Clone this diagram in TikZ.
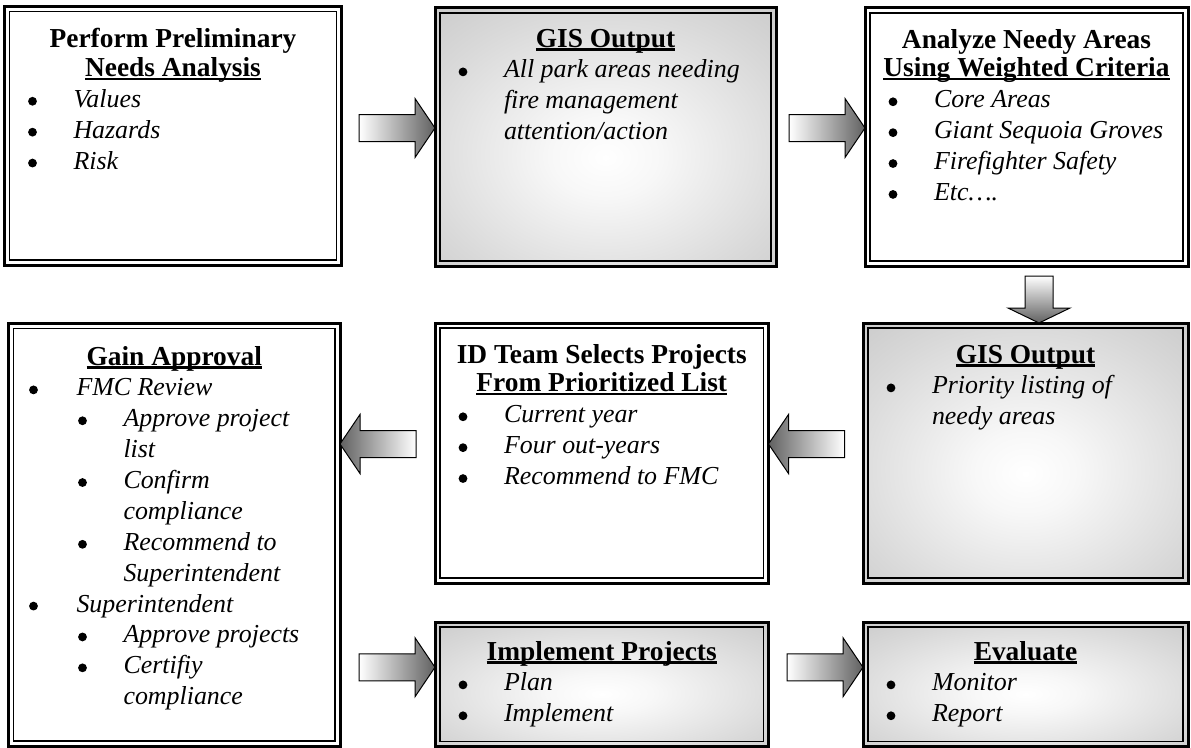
\documentclass[tikz,border=0pt]{standalone}
\usepackage{fontspec}
\setmainfont{Liberation Serif}

% light centre fading to grey at the edges of the output panels
\pgfdeclareradialshading{panelshade}{\pgfpoint{0bp}{-4bp}}{%
  color(0bp)=(white); color(8bp)=(white!97!black); color(28bp)=(white!85!black);
  color(50bp)=(white!73!black); color(72bp)=(white!65!black); color(100bp)=(white!65!black)}

% text block of fixed size, aligned to the top
\newcommand\panelbox[3]{\parbox[c][#2][t]{#1}{\setlength\parindent{0pt}\lineskiplimit=-100bp #3}}
% centred bold heading; the body that follows is italic
\newcommand\phead[2]{{\centering\bfseries\fontsize{27.5}{29}\selectfont\rule{0pt}{#1}#2\par}%
  \fontsize{26}{31}\selectfont\itshape}
% heading line with a heavy underline
\newcommand\uln[1]{\leavevmode\setbox0\hbox{#1}\rlap{\rule[-3.5bp]{\wd0}{2.2bp}}\box0}
% round list bullet sitting a little above the baseline
\newcommand\bul{\tikz[baseline=0pt]\fill[black] (0bp,6bp) circle[radius=4.4bp];}
% bullet centred at #1, text starting at #2
\newcommand\itemat[3]{\par\noindent\hspace*{#1}\makebox[0pt]{\bul}\hspace*{\dimexpr#2-#1\relax}#3}
\newcommand\contat[2]{\par\noindent\hspace*{#1}#2}
\newcommand\Ia[1]{\itemat{28bp}{69bp}{#1}}
\newcommand\Ib[1]{\contat{69bp}{#1}}

\begin{document}
\begin{tikzpicture}[x=1bp,y=-1bp,
  panel/.style={draw=black, line width=3bp, fill=white, inner sep=0pt, outer sep=0pt, anchor=north west},
  shadedpanel/.style={panel, shade, shading=panelshade},
  innerframe/.style={draw=black, line width=1.5bp},
  arrowR/.style={draw=black, line width=1bp, line join=miter, left color=white, right color=black!62},
  arrowL/.style={draw=black, line width=1bp, line join=miter, left color=black!62, right color=white},
  arrowD/.style={draw=black, line width=1bp, line join=miter, top color=white, bottom color=black!62}]
\useasboundingbox[fill=white] (0,0) rectangle (1191,748);

% top row
\node[panel] (b1) at (4.5,6.5) {\panelbox{337bp}{258.5bp}{%
  \phead{41bp}{Perform Preliminary\\\uln{Needs Analysis}}%
  \Ia{Values}\Ia{Hazards}\Ia{Risk}}};
\node[shadedpanel] (b2) at (435,8) {\panelbox{341bp}{258bp}{%
  \phead{39bp}{\uln{GIS Output}}%
  \Ia{All park areas needing}\Ib{fire management}\Ib{attention/action}}};
\node[panel] (b3) at (865,8) {\panelbox{323bp}{258bp}{%
  \phead{40bp}{Analyze Needy Areas\\\uln{Using Weighted Criteria}}%
  \Ia{Core Areas}\Ia{Giant Sequoia Groves}\Ia{Firefighter Safety}\Ia{Etc\textellipsis.}}};

% middle row
\node[shadedpanel] (b4) at (863,323) {\panelbox{325bp}{260bp}{%
  \phead{40bp}{\uln{GIS Output}}%
  \Ia{Priority listing of}\Ib{needy areas}}};
\node[panel] (b5) at (435,323) {\panelbox{333.5bp}{260bp}{%
  \phead{40bp}{ID Team Selects Projects\\\uln{From Prioritized List}}%
  \Ia{Current year}\Ia{Four out-years}\Ia{Recommend to FMC}}};
\node[panel] (b6) at (8.5,323.5) {\panelbox{331.5bp}{422.5bp}{%
  \phead{41.5bp}{\uln{Gain Approval}}%
  \itemat{25bp}{68bp}{FMC Review}%
  \itemat{74bp}{115bp}{Approve project}\contat{115bp}{list}%
  \itemat{74bp}{115bp}{Confirm}\contat{115bp}{compliance}%
  \itemat{74bp}{115bp}{Recommend to}\contat{115bp}{Superintendent}%
  \itemat{25bp}{68bp}{Superintendent}%
  \itemat{74bp}{115bp}{Approve projects}%
  \itemat{74bp}{115bp}{Certifiy}\contat{115bp}{compliance}}};

% bottom row
\node[shadedpanel] (b7) at (435,622) {\panelbox{333.5bp}{124.5bp}{%
  \phead{38bp}{\uln{Implement Projects}}%
  \Ia{Plan}\Ia{Implement}}};
\node[shadedpanel] (b8) at (863,622) {\panelbox{325bp}{124.5bp}{%
  \phead{38bp}{\uln{Evaluate}}%
  \Ia{Monitor}\Ia{Report}}};

% thin inner line of each double border
\foreach \b in {b1,b2,b3,b4,b5,b6,b7,b8}
  \draw[innerframe] ([shift={(5bp,-5bp)}]\b.north west) rectangle ([shift={(-5bp,5bp)}]\b.south east);

% block arrows, tip on the receiving panel
\coordinate (t1) at ([yshift=9bp]b2.west);
\coordinate (t2) at ([yshift=9bp]b3.west);
\coordinate (t3) at ([xshift=13.5bp]b4.north);
\coordinate (t4) at ([yshift=9bp]b5.east);
\coordinate (t5) at (b6.east |- t4);
\coordinate (t6) at ([yshift=17bp]b7.west);
\coordinate (t7) at ([yshift=17bp]b8.west);

\foreach \t in {t1,t2,t6,t7}
  \draw[arrowR] (\t) -- ++(-20,29.5) -- ++(0,-16) -- ++(-56,0) -- ++(0,-27) -- ++(56,0) -- ++(0,-16) -- cycle;
\foreach \t in {t4,t5}
  \draw[arrowL] (\t) -- ++(20,29.5) -- ++(0,-16) -- ++(56,0) -- ++(0,-27) -- ++(-56,0) -- ++(0,-16) -- cycle;
\draw[arrowD] (t3) -- ++(-31,-15) -- ++(17,0) -- ++(0,-32) -- ++(28,0) -- ++(0,32) -- ++(17,0) -- cycle;
\end{tikzpicture}
\end{document}
